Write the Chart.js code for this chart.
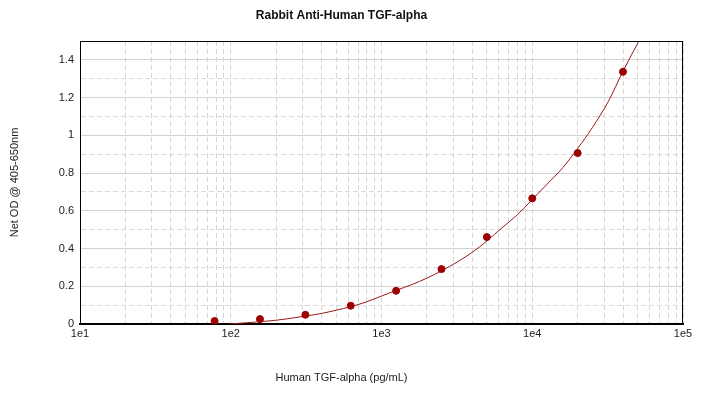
<!DOCTYPE html>
<html>
<head>
<meta charset="utf-8">
<script src="https://cdn.jsdelivr.net/npm/chart.js@4.4.0/dist/chart.umd.min.js"></script>
<style>
  html, body { margin: 0; padding: 0; background: #fff; }
  #wrap { width: 701px; height: 393px; }
</style>
</head>
<body>
<div id="wrap"><canvas id="stdCurve"></canvas></div>
<script>
// standards (pg/mL) and measured net OD
const concentrations = [78.125, 156.25, 312.5, 625, 1250, 2500, 5000, 10000, 20000, 40000];
const netOD = [0.016, 0.026, 0.049, 0.097, 0.176, 0.291, 0.461, 0.666, 0.906, 1.337];

// fitted curve
const fitConc = [97, 125, 156, 200, 250, 312, 400, 500, 625, 800, 1000, 1250, 1600, 2000, 2500,
                 3200, 4000, 5000, 6300, 8000, 10000, 12500, 16000, 20000, 25000, 32000, 40000, 51000];
const fitOD = [0, 0.006, 0.012, 0.02, 0.03, 0.042, 0.056, 0.073, 0.092, 0.118, 0.148, 0.178, 0.21, 0.243, 0.282,
               0.33, 0.38, 0.44, 0.51, 0.58, 0.66, 0.74, 0.83, 0.93, 1.04, 1.18, 1.34, 1.5];

const decadeValues = [10, 100, 1000, 10000, 100000];
const decadeLabels = ['1e1', '1e2', '1e3', '1e4', '1e5'];
const yLabels = ['0', '0.2', '0.4', '0.6', '0.8', '1', '1.2', '1.4'];

const frame = {
    id: 'frame',
    afterDatasetsDraw(chart) {
        const { ctx, chartArea: a } = chart;
        ctx.save();
        ctx.strokeStyle = '#000';
        ctx.lineWidth = 1;
        ctx.strokeRect(a.left + 0.5, a.top + 0.5, a.right - a.left - 1, a.bottom - a.top);
        ctx.restore();
    }
};

const ctx = document.getElementById('stdCurve').getContext('2d');
new Chart(ctx, {
    type: 'scatter',
    data: {
        datasets: [{
            label: 'Fit',
            data: fitConc.map((c, i) => ({ x: c, y: fitOD[i] })),
            showLine: true,
            borderColor: '#9a1a1a',
            borderWidth: 1,
            pointRadius: 0,
            cubicInterpolationMode: 'monotone',
            order: 2,
        }, {
            label: 'Net OD',
            data: concentrations.map((c, i) => ({ x: c, y: netOD[i] })),
            backgroundColor: '#9c0000',
            borderColor: '#9c0000',
            pointRadius: 3.5,
            order: 1,
        }]
    },
    options: {
        responsive: true,
        maintainAspectRatio: false,
        animation: false,
        layout: { padding: { left: 0, right: 18, top: 0, bottom: 0 } },
        plugins: {
            legend: { display: false },
            tooltip: { enabled: false },
            title: {
                display: true,
                text: 'Rabbit Anti-Human TGF-alpha',
                color: '#111',
                font: { family: 'Liberation Sans, Arial', size: 12, weight: 'bold' },
                padding: { top: 8, bottom: 18.6 }
            },
            subtitle: {
                display: true,
                position: 'bottom',
                text: 'Human TGF-alpha (pg/mL)',
                color: '#222',
                font: { family: 'Liberation Sans, Arial', size: 11 },
                padding: { top: 20, bottom: 8 }
            }
        },
        scales: {
            x: {
                type: 'logarithmic',
                min: 10,
                max: 100000,
                afterBuildTicks(scale) {
                    const ticks = [];
                    for (let e = 1; e < 5; e++) {
                        for (let m = 1; m < 10; m++) ticks.push({ value: m * Math.pow(10, e) });
                    }
                    ticks.push({ value: 100000 });
                    scale.ticks = ticks;
                },
                afterFit(scale) { scale.height = 27.8; },
                ticks: {
                    autoSkip: false,
                    maxRotation: 0,
                    padding: 3,
                    color: '#222',
                    font: { family: 'Liberation Sans, Arial', size: 11 },
                    callback(value) {
                        const k = decadeValues.indexOf(value);
                        return k >= 0 ? decadeLabels[k] : '';
                    }
                },
                grid: { color: '#d6d6d6', drawTicks: false },
                border: { color: '#000', width: 2, dash: [5, 3] }
            },
            y: {
                min: 0,
                max: 1.5,
                afterFit(scale) { scale.width = 80; },
                ticks: {
                    stepSize: 0.1,
                    padding: 6,
                    color: '#222',
                    font: { family: 'Liberation Sans, Arial', size: 11 },
                    callback(value, index) {
                        return index % 2 === 0 ? yLabels[index / 2] : '';
                    }
                },
                grid: {
                    color: (c) => (c.index % 2 === 1 ? '#dadada' : '#d2d2d2'),
                    drawTicks: false
                },
                border: {
                    color: '#000',
                    width: 1,
                    dash: (c) => (c.index % 2 === 1 ? [5, 3] : [])
                },
                title: {
                    display: true,
                    text: 'Net OD @ 405-650nm',
                    color: '#222',
                    font: { family: 'Liberation Sans, Arial', size: 11 },
                    padding: { top: 8, bottom: 0 }
                }
            }
        }
    },
    plugins: [frame]
});
</script>
</body>
</html>
